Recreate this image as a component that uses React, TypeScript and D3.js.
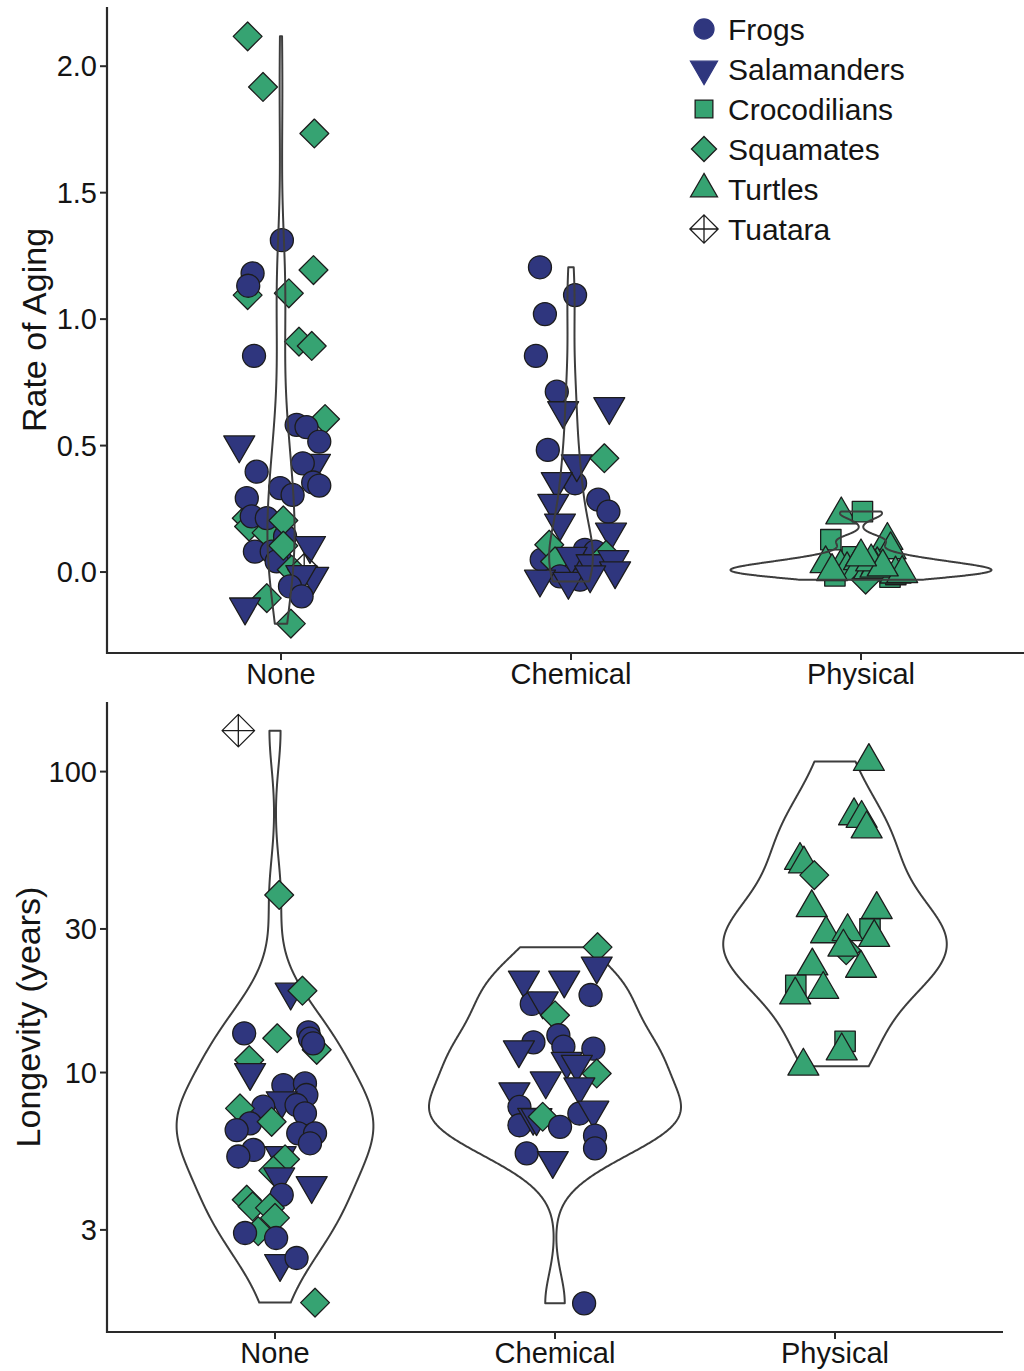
import React from "react";
import * as d3 from "d3";

// ---------------- DATA ----------------
const categories = ["None", "Chemical", "Physical"];
const groupNames = ["Frogs", "Salamanders", "Crocodilians", "Squamates", "Turtles", "Tuatara"];
const rateTicks = [0, 0.5, 1, 1.5, 2];
const longevityTicks = [3, 10, 30, 100];
const rateTitle = "Rate of Aging";
const longevityTitle = "Longevity (years)";

// [group, value, horizontal jitter offset in category units]
type Obs = [string, number, number];

const rateNone: Obs[] = [
  ["Squamates", 2.118, -0.115], ["Squamates", 1.918, -0.062], ["Squamates", 1.734, 0.115],
  ["Frogs", 1.312, 0.003], ["Squamates", 1.095, -0.115], ["Frogs", 1.181, -0.098], ["Frogs", 1.132, -0.113],
  ["Squamates", 1.194, 0.112], ["Squamates", 1.102, 0.027], ["Squamates", 0.911, 0.062], ["Squamates", 0.894, 0.106],
  ["Frogs", 0.855, -0.093], ["Squamates", 0.605, 0.152], ["Frogs", 0.582, 0.054], ["Frogs", 0.573, 0.088],
  ["Frogs", 0.516, 0.132], ["Salamanders", 0.503, -0.144], ["Frogs", 0.397, -0.084], ["Salamanders", 0.43, 0.117],
  ["Frogs", 0.43, 0.075], ["Frogs", 0.332, -0.003], ["Frogs", 0.305, 0.04], ["Frogs", 0.354, 0.111],
  ["Frogs", 0.342, 0.132], ["Squamates", 0.213, -0.118], ["Squamates", 0.18, -0.11], ["Frogs", 0.292, -0.118],
  ["Frogs", 0.22, -0.101], ["Squamates", 0.155, -0.05], ["Frogs", 0.213, -0.049], ["Frogs", 0.141, 0.014],
  ["Squamates", 0.204, 0.008], ["Frogs", 0.081, -0.09], ["Frogs", 0.081, -0.032], ["Frogs", 0.049, -0.003],
  ["Frogs", 0.042, -0.015], ["Squamates", 0.104, 0.008], ["Salamanders", 0.105, 0.1], ["Squamates", 0.009, 0.037],
  ["Tuatara", 0.009, 0.08], ["Salamanders", -0.017, 0.111], ["Salamanders", -0.01, 0.07], ["Frogs", -0.057, 0.031],
  ["Frogs", -0.096, 0.071], ["Squamates", -0.103, -0.049], ["Salamanders", -0.138, -0.124], ["Squamates", -0.204, 0.034],
];

const rateChemical: Obs[] = [
  ["Frogs", 1.205, -0.107], ["Frogs", 1.095, 0.014], ["Frogs", 1.02, -0.09], ["Frogs", 0.855, -0.121],
  ["Frogs", 0.713, -0.049], ["Salamanders", 0.638, -0.027], ["Salamanders", 0.654, 0.132], ["Frogs", 0.483, -0.08],
  ["Frogs", 0.351, 0.014], ["Salamanders", 0.428, 0.02], ["Squamates", 0.45, 0.115], ["Salamanders", 0.358, -0.049],
  ["Frogs", 0.286, 0.094], ["Frogs", 0.239, 0.129], ["Salamanders", 0.272, -0.061], ["Salamanders", 0.194, -0.038],
  ["Salamanders", 0.158, 0.138], ["Frogs", 0.049, -0.101], ["Squamates", 0.108, -0.075], ["Squamates", 0.042, -0.055],
  ["Frogs", 0.088, 0.048], ["Frogs", 0.081, 0.083], ["Squamates", 0.068, 0.121], ["Frogs", 0.009, 0.041],
  ["Frogs", -0.017, -0.038], ["Frogs", -0.03, 0.031], ["Salamanders", 0.062, 0.002], ["Salamanders", 0.033, 0.071],
  ["Salamanders", 0.049, 0.146], ["Salamanders", 0.005, 0.152], ["Salamanders", -0.028, -0.107],
  ["Salamanders", -0.037, -0.009], ["Salamanders", -0.011, 0.066],
];

const ratePhysical: Obs[] = [
  ["Turtles", 0.226, -0.068], ["Crocodilians", 0.239, 0.005], ["Crocodilians", 0.128, -0.104],
  ["Turtles", 0.125, 0.091], ["Turtles", 0.088, 0.102], ["Crocodilians", 0.06, -0.03], ["Crocodilians", -0.02, 0.1],
  ["Crocodilians", -0.015, -0.09], ["Crocodilians", -0.01, 0.12], ["Turtles", 0.033, -0.122], ["Turtles", 0.018, -0.07],
  ["Turtles", 0.009, -0.048], ["Turtles", 0.045, -0.007], ["Turtles", 0.005, -0.013], ["Squamates", -0.03, 0.016],
  ["Turtles", 0.009, 0.028], ["Turtles", 0.029, 0.056], ["Turtles", -0.008, 0.119], ["Turtles", 0.015, 0.05],
  ["Turtles", 0.002, -0.1], ["Turtles", -0.006, 0.142], ["Turtles", 0.04, 0.035], ["Turtles", 0.02, 0.075],
  ["Turtles", 0.06, 0.0],
];

const longevityNone: Obs[] = [
  ["Tuatara", 136.8, -0.131], ["Squamates", 38.9, 0.015], ["Salamanders", 18.5, 0.056], ["Squamates", 18.7, 0.098],
  ["Frogs", 13.5, -0.11], ["Squamates", 13.0, 0.008], ["Squamates", 11.9, 0.149], ["Frogs", 13.6, 0.119],
  ["Frogs", 12.97, 0.125], ["Frogs", 12.5, 0.136], ["Squamates", 11.0, -0.092], ["Salamanders", 10.0, -0.089],
  ["Frogs", 9.08, 0.03], ["Frogs", 9.2, 0.107], ["Frogs", 8.42, 0.112], ["Salamanders", 8.06, 0.024],
  ["Frogs", 7.8, 0.077], ["Frogs", 7.32, 0.107], ["Frogs", 7.7, -0.042], ["Squamates", 7.6, -0.125],
  ["Frogs", 6.78, -0.089], ["Frogs", 6.44, -0.137], ["Squamates", 6.86, -0.012], ["Frogs", 6.28, 0.083],
  ["Frogs", 6.28, 0.143], ["Frogs", 5.82, 0.125], ["Frogs", 5.53, -0.077], ["Frogs", 5.26, -0.131],
  ["Salamanders", 5.3, 0.02], ["Squamates", 5.15, 0.036], ["Squamates", 4.72, -0.006], ["Salamanders", 4.5, 0.015],
  ["Salamanders", 4.21, 0.131], ["Frogs", 3.92, 0.024], ["Squamates", 3.78, -0.101], ["Squamates", 3.59, -0.08],
  ["Squamates", 3.55, -0.018], ["Squamates", 3.29, 0.0], ["Squamates", 2.97, -0.06], ["Frogs", 2.93, -0.107],
  ["Frogs", 2.82, 0.004], ["Salamanders", 2.32, 0.018], ["Frogs", 2.42, 0.077], ["Squamates", 1.72, 0.143],
];

const longevityChemical: Obs[] = [
  ["Squamates", 26.1, 0.152], ["Salamanders", 22.6, 0.149], ["Salamanders", 20.3, -0.111], ["Salamanders", 20.3, 0.033],
  ["Frogs", 18.1, 0.127], ["Frogs", 16.9, -0.083], ["Salamanders", 17.3, -0.044], ["Squamates", 15.5, 0.0],
  ["Frogs", 13.3, 0.012], ["Frogs", 12.6, -0.077], ["Salamanders", 11.9, -0.129], ["Frogs", 12.2, 0.03],
  ["Frogs", 12.0, 0.137], ["Salamanders", 10.9, 0.042], ["Salamanders", 10.65, 0.078], ["Squamates", 9.93, 0.149],
  ["Salamanders", 9.38, -0.033], ["Salamanders", 8.96, 0.087], ["Salamanders", 8.63, -0.145], ["Frogs", 7.69, -0.127],
  ["Frogs", 6.68, -0.127], ["Salamanders", 7.1, -0.078], ["Salamanders", 7.08, -0.066], ["Squamates", 7.13, -0.044],
  ["Frogs", 6.6, 0.018], ["Frogs", 7.31, 0.087], ["Salamanders", 7.5, 0.137], ["Frogs", 6.17, 0.143],
  ["Frogs", 5.6, 0.143], ["Frogs", 5.39, -0.101], ["Salamanders", 5.1, -0.008], ["Frogs", 1.71, 0.104],
];

const longevityPhysical: Obs[] = [
  ["Turtles", 108, 0.121], ["Turtles", 71.3, 0.068], ["Turtles", 69.9, 0.095], ["Turtles", 64.5, 0.113],
  ["Turtles", 50.7, -0.125], ["Turtles", 49.3, -0.111], ["Squamates", 45.3, -0.074], ["Turtles", 35.3, -0.083],
  ["Turtles", 34.8, 0.149], ["Turtles", 28.9, -0.032], ["Crocodilians", 30.0, 0.125], ["Turtles", 29.4, 0.045],
  ["Turtles", 28.1, 0.14], ["Squamates", 25.5, 0.04], ["Turtles", 26.1, 0.03], ["Turtles", 22.2, 0.093],
  ["Turtles", 22.6, -0.081], ["Crocodilians", 19.5, -0.14], ["Turtles", 18.1, -0.142], ["Turtles", 18.9, -0.042],
  ["Crocodilians", 12.7, 0.036], ["Turtles", 11.8, 0.024], ["Turtles", 10.5, -0.113],
];

// ---------------- STYLE ----------------
const NAVY = "#2f367e";
const GREEN = "#36a372";
const fillOf: Record<string, string> = {
  Frogs: NAVY, Salamanders: NAVY, Crocodilians: GREEN, Squamates: GREEN, Turtles: GREEN, Tuatara: "none",
};
const FONT = "'Liberation Sans', Arial, Helvetica, sans-serif";
const TXT = "#141414";
const AX = "#2a2a2a";

function shapePath(g: string, R: number): string {
  if (g === "Frogs") return `M${R},0A${R},${R} 0 1,1 ${-R},0A${R},${R} 0 1,1 ${R},0Z`;
  if (g === "Salamanders" || g === "Turtles") {
    const r = 1.5551 * R, xc = 1.3468 * R, yc = 0.7776 * R;
    return g === "Turtles"
      ? `M0,${-r}L${xc},${yc}L${-xc},${yc}Z`
      : `M0,${r}L${xc},${-yc}L${-xc},${-yc}Z`;
  }
  if (g === "Crocodilians") {
    const s = 0.88623 * R;
    return `M${-s},${-s}H${s}V${s}H${-s}Z`;
  }
  if (g === "Squamates") {
    const d = 1.25331 * R;
    return `M0,${-d}L${d},0L0,${d}L${-d},0Z`;
  }
  const d = Math.SQRT2 * R;
  return `M0,${-d}L${d},0L0,${d}L${-d},0ZM${-d},0H${d}M0,${-d}V${d}`;
}

function nrd0(v: number[]): number {
  const s = d3.deviation(v) ?? 0;
  const sorted = v.slice().sort(d3.ascending);
  const iqr = ((d3.quantileSorted(sorted, 0.75) ?? 0) - (d3.quantileSorted(sorted, 0.25) ?? 0)) / 1.34;
  let lo = Math.min(s, iqr);
  if (!(lo > 0)) lo = s || Math.abs(sorted[0]) || 1;
  return 0.9 * lo * Math.pow(v.length, -0.2);
}

function kde(v: number[], n = 512): [number, number][] {
  const bw = nrd0(v);
  const [mn, mx] = d3.extent(v) as [number, number];
  const k = (u: number) => Math.exp(-0.5 * u * u) / Math.sqrt(2 * Math.PI);
  return d3.range(n).map((i) => {
    const t = mn + ((mx - mn) * i) / (n - 1);
    return [t, (d3.mean(v, (x) => k((t - x) / bw)) ?? 0) / bw] as [number, number];
  });
}

type PanelProps = {
  sets: Obs[][];
  log: boolean;
  xRange: [number, number];
  yRange: [number, number]; // [bottom, top]
  ticks: number[];
  tickFmt: (v: number) => string;
  title: string;
  titleX: number;
  violinOnTop: boolean;
};

function Panel(p: PanelProps) {
  const tf = (v: number) => (p.log ? Math.log10(v) : v);
  const all = p.sets.flat().map((d) => tf(d[1]));
  const [lo, hi] = d3.extent(all) as [number, number];
  const pad = (hi - lo) * 0.05;
  const y = p.log
    ? d3.scaleLog().domain([Math.pow(10, lo - pad), Math.pow(10, hi + pad)]).range(p.yRange)
    : d3.scaleLinear().domain([lo - pad, hi + pad]).range(p.yRange);
  const x = d3.scalePoint<string>().domain(categories).range(p.xRange).padding(0.6);
  const step = x.step();

  const dens = p.sets.map((s) => kde(s.map((d) => tf(d[1]))));
  const maxD = d3.max(dens.flat(), (d) => d[1]) ?? 1;

  const violins = dens.map((dd, i) => {
    const cx = x(categories[i])!;
    const area = d3
      .area<[number, number]>()
      .x0((d) => cx - (d[1] / maxD) * 0.45 * step)
      .x1((d) => cx + (d[1] / maxD) * 0.45 * step)
      .y((d) => y(p.log ? Math.pow(10, d[0]) : d[0]));
    return (
      <path key={"v" + i} d={area(dd) ?? ""} fill="none" stroke="#3d3d3d" strokeWidth={2} strokeLinejoin="round" />
    );
  });

  const points = p.sets.map((s, i) =>
    s.map((d, j) => (
      <path
        key={`p${i}-${j}`}
        d={shapePath(d[0], 11.5)}
        transform={`translate(${x(categories[i])! + d[2] * step},${y(d[1])})`}
        fill={fillOf[d[0]]}
        stroke="#1c1c1c"
        strokeWidth={1.3}
        strokeLinejoin="round"
      />
    ))
  );

  const [yb, yt] = p.yRange;
  return (
    <g>
      {p.violinOnTop ? points : violins}
      {p.violinOnTop ? violins : points}
      <line x1={p.xRange[0]} x2={p.xRange[0]} y1={yt} y2={yb + 1} stroke={AX} strokeWidth={2.2} />
      <line x1={p.xRange[0] - 1} x2={p.xRange[1]} y1={yb} y2={yb} stroke={AX} strokeWidth={2.2} />
      {p.ticks.map((t) => (
        <g key={"yt" + t}>
          <line x1={p.xRange[0] - 7} x2={p.xRange[0]} y1={y(t)} y2={y(t)} stroke={AX} strokeWidth={2} />
          <text x={p.xRange[0] - 10} y={y(t)} textAnchor="end" dominantBaseline="central" fontSize={29} fill={TXT} fontFamily={FONT}>
            {p.tickFmt(t)}
          </text>
        </g>
      ))}
      {categories.map((c) => (
        <g key={"xt" + c}>
          <line x1={x(c)!} x2={x(c)!} y1={yb} y2={yb + 7} stroke={AX} strokeWidth={2} />
          <text x={x(c)!} y={yb + 21} textAnchor="middle" dominantBaseline="central" fontSize={29} fill={TXT} fontFamily={FONT}>
            {c}
          </text>
        </g>
      ))}
      <text
        transform={`translate(${p.titleX},${(yb + yt) / 2}) rotate(-90)`}
        textAnchor="middle"
        dominantBaseline="central"
        fontSize={34}
        fill={TXT}
        fontFamily={FONT}
      >
        {p.title}
      </text>
    </g>
  );
}

function Legend() {
  return (
    <g>
      {groupNames.map((g, i) => {
        const cy = 29 + 40 * i;
        const amph = g === "Frogs" || g === "Salamanders";
        return (
          <g key={g}>
            <path
              d={shapePath(g, 10)}
              transform={`translate(704,${cy})`}
              fill={fillOf[g]}
              stroke={amph ? NAVY : "#1c1c1c"}
              strokeWidth={1.3}
            />
            <text x={728} y={cy} dominantBaseline="central" fontSize={30} fill={TXT} fontFamily={FONT}>
              {g}
            </text>
          </g>
        );
      })}
    </g>
  );
}

export default function App() {
  return (
    <svg
      width={1024}
      height={1371}
      style={{ position: "absolute", left: 0, top: 0, background: "#fff" }}
      xmlns="http://www.w3.org/2000/svg"
    >
      <rect width={1024} height={1371} fill="#fff" />
      <Panel
        sets={[rateNone, rateChemical, ratePhysical]}
        log={false}
        xRange={[107, 1035]}
        yRange={[653, 7]}
        ticks={rateTicks}
        tickFmt={d3.format(".1f")}
        title={rateTitle}
        titleX={34}
        violinOnTop={true}
      />
      <Legend />
      <Panel
        sets={[longevityNone, longevityChemical, longevityPhysical]}
        log={true}
        xRange={[107, 1003]}
        yRange={[1332, 702]}
        ticks={longevityTicks}
        tickFmt={(v) => String(v)}
        title={longevityTitle}
        titleX={28}
        violinOnTop={false}
      />
    </svg>
  );
}
